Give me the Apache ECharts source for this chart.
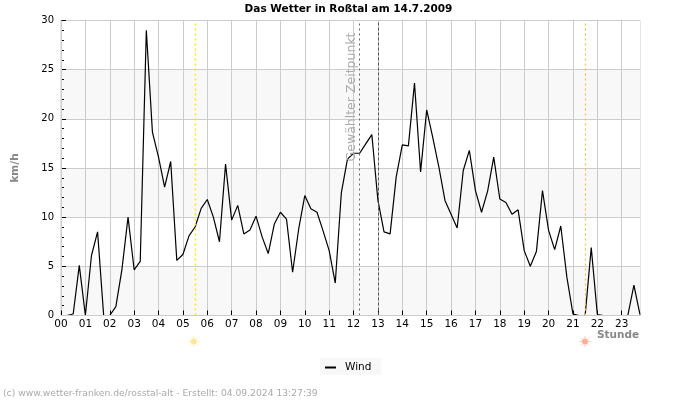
<!DOCTYPE html>
<html>
<head>
<meta charset="utf-8">
<script src="https://cdn.jsdelivr.net/npm/echarts@6/dist/echarts.min.js"></script>
<style>html,body{margin:0;padding:0;background:#fff}#c{width:700px;height:400px}</style>
</head>
<body>
<div id="c"></div>
<script>
const hours = ["00","01","02","03","04","05","06","07","08","09","10","11","12","13","14","15","16","17","18","19","20","21","22","23"];
const quarters = ["00","15","30","45"];
const wind = [
  0,0,0.15,5.1, 0,6.1,8.5,0, 0,0.9,4.7,10, 4.65,5.5,29,18.65,
  16.1,13.05,15.66,5.6, 6.2,8.1,9,10.9, 11.8,10,7.5,15.4, 9.7,11.2,8.3,8.7,
  10.1,8,6.3,9.3, 10.5,9.8,4.4,8.8, 12.2,10.85,10.5,8.6, 6.6,3.3,12.5,15.9,
  16.5,16.5,17.45,18.4, 11.7,8.5,8.3,14.1, 17.35,17.25,23.65,14.6, 20.9,18.1,15.1,11.7,
  10.3,8.9,14.75,16.8, 12.7,10.5,12.65,16.1, 11.85,11.5,10.3,10.75, 6.6,5,6.5,12.7,
  8.65,6.7,9.1,3.9, 0.15,0,0,6.9, 0.1,0,0,0, 0,0,3.1,0.1
];
const sunriseTime = "05:30", sunsetTime = "21:30", selectedTime = "12:15", nowTime = "13:00";
const categories = hours.flatMap(h => quarters.map(q => h + ":" + q));
const onHour = (i) => i % 4 === 0;

function sun(cx, cy, color) {
  const kids = [{ type: 'circle', shape: { cx, cy, r: 3 }, style: { fill: color }, silent: true }];
  for (let a = 0; a < 8; a++) {
    const t = a * Math.PI / 4, c = Math.cos(t), s = Math.sin(t);
    kids.push({ type: 'line', silent: true,
      shape: { x1: cx + 3 * c, y1: cy + 3 * s, x2: cx + 5.5 * c, y2: cy + 5.5 * s },
      style: { stroke: color, lineWidth: 1, opacity: 0.7 } });
  }
  return kids;
}

const chart = echarts.init(document.getElementById('c'), null, { renderer: 'canvas' });
const fam = '"DejaVu Sans", sans-serif';
chart.setOption({
  animation: false,
  backgroundColor: '#fff',
  title: {
    text: 'Das Wetter in Roßtal am 14.7.2009',
    left: 343.5, top: -1, textAlign: 'center',
    textStyle: { fontFamily: fam, fontSize: 10.5, fontWeight: 'bold', color: '#000' }
  },
  grid: { left: 61, right: 60, top: 20.5, height: 295, show: true, borderColor: '#ccc', borderWidth: 1, containLabel: false },
  legend: {
    left: 320, top: 358, padding: [4, 10, 2, 5], backgroundColor: '#f8f8f8',
    itemWidth: 11, itemHeight: 2, icon: 'rect', itemGap: 0,
    textStyle: { fontFamily: fam, fontSize: 10.5, color: '#000', padding: [0, 0, 0, 4] },
    data: ['Wind']
  },
  xAxis: [{
    type: 'category', data: categories, boundaryGap: false, z: 1,
    axisLine: { show: false },
    axisTick: { show: true, inside: true, length: 5, interval: (i) => onHour(i), lineStyle: { color: '#000' } },
    axisLabel: { interval: (i) => onHour(i), formatter: (v) => v.slice(0, 2), margin: 3,
      fontFamily: fam, fontSize: 10.5, color: '#000' },
    splitLine: { show: true, interval: (i) => onHour(i), lineStyle: { color: '#ccc', width: 1 } },
    name: 'Stunde', nameLocation: 'end', nameGap: -43,
    nameTextStyle: { fontFamily: fam, fontSize: 10.5, fontWeight: 'bold', color: '#888',
      verticalAlign: 'top', padding: [14, 0, 0, 0] }
  }, {
    type: 'category', data: categories, boundaryGap: false, position: 'bottom', z: 5,
    axisLine: { show: true, lineStyle: { color: '#ccc', width: 1 } },
    axisTick: { show: false }, axisLabel: { show: false }, splitLine: { show: false }
  }],
  yAxis: {
    type: 'value', min: 0, max: 30, interval: 5,
    axisLine: { show: true, lineStyle: { color: '#ccc' } },
    axisTick: { show: true, inside: true, length: 5, lineStyle: { color: '#000' } },
    minorTick: { show: true, splitNumber: 5, length: 3, lineStyle: { color: '#000' } },
    axisLabel: { margin: 7, fontFamily: fam, fontSize: 10, color: '#000' },
    splitLine: { show: true, lineStyle: { color: '#ccc', width: 1 } },
    splitArea: { show: true, areaStyle: { color: ['#f8f8f8', '#ffffff'] } },
    name: 'km/h', nameLocation: 'middle', nameGap: 40,
    nameTextStyle: { fontFamily: fam, fontSize: 10.5, fontWeight: 'bold', color: '#888' }
  },
  series: [{
    name: 'Wind', type: 'line', data: wind, xAxisIndex: 0, symbol: 'none', z: 3,
    lineStyle: { color: '#000', width: 1.2 }, itemStyle: { color: '#000' }, clip: true,
    markLine: {
      silent: true, symbol: 'none', animation: false, label: { show: false },
      data: [
        { xAxis: sunriseTime, lineStyle: { color: '#ffe600', type: [2, 3], width: 1.4, opacity: 1 } },
        { xAxis: sunsetTime, lineStyle: { color: '#fbb84e', type: [2, 3], width: 1.2, opacity: 1 } },
        { xAxis: selectedTime, lineStyle: { color: '#666', type: [2, 3], width: 1, opacity: 1 } },
        { xAxis: nowTime, lineStyle: { color: '#555', type: [3, 2], width: 1, opacity: 1 } }
      ]
    }
  }],
  graphic: [
    { type: 'text', x: 352, y: 97, z: 10, silent: true, rotation: Math.PI / 2,
      style: { text: 'Gewählter Zeitpunkt', fontFamily: fam, fontSize: 12.5, fill: '#aaa', align: 'center', verticalAlign: 'middle' } },
    { type: 'text', x: 3, y: 393.5, z: 10, silent: true,
      style: { text: '(c) www.wetter-franken.de/rosstal-alt - Erstellt: 04.09.2024 13:27:39', fontFamily: fam, fontSize: 9.2, fill: '#aaa', align: 'left', verticalAlign: 'middle' } },
    ...sun(193.7, 341.5, '#fde79a'),
    ...sun(585, 341.5, '#fbb09a')
  ]
});
</script>
</body>
</html>
